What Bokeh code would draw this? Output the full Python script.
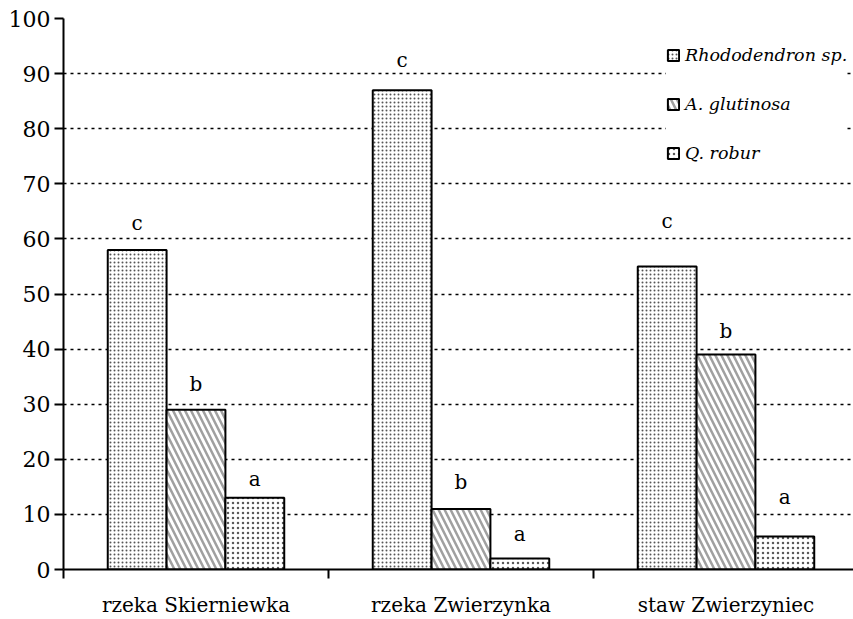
from bokeh.plotting import figure
from bokeh.models import (ColumnDataSource, FixedTicker, Legend, LegendItem,
                          Range1d)
from bokeh.embed import file_html
from bokeh.resources import INLINE
from bokeh.core.properties import value

# Sites along the x axis
categories = ["rzeka Skierniewka", "rzeka Zwierzynka", "staw Zwierzyniec"]

# Series values per site
rhododendron = [58, 87, 55]
glutinosa = [29, 11, 39]
robur = [13, 2, 6]

# Significance letters above each bar
letters_rhododendron = ["c", "c", "c"]
letters_glutinosa = ["b", "b", "b"]
letters_robur = ["a", "a", "a"]

# Height of each letter above its bar (value units)
gap_rhododendron = [4.8, 5.4, 8.3]
gap_glutinosa = [4.6, 4.8, 4.2]
gap_robur = [3.5, 4.5, 7.2]

y_ticks = list(range(0, 101, 10))

FONT = "DejaVu Serif"
BAR_W = 0.222

p = figure(width=853, height=619, output_backend="svg", toolbar_location=None,
           x_range=Range1d(0, 790 / 265), y_range=Range1d(0, 100),
           min_border_left=63, min_border_right=0, min_border_top=18,
           min_border_bottom=50)
p.outline_line_color = None
p.background_fill_color = "white"
p.border_fill_color = "white"

series = [
    ("Rhododendron sp.", rhododendron, letters_rhododendron, gap_rhododendron, -BAR_W,
     dict(hatch_pattern="dot", hatch_scale=4, hatch_weight=1.1, hatch_color="#555555")),
    ("A. glutinosa", glutinosa, letters_glutinosa, gap_glutinosa, 0.0,
     dict(hatch_pattern="left_diagonal_line", hatch_scale=12, hatch_weight=2.5,
          hatch_color="#a0a0a0")),
    ("Q. robur", robur, letters_robur, gap_robur, BAR_W,
     dict(hatch_pattern="dot", hatch_scale=5, hatch_weight=2.5, hatch_color="#5a5a5a")),
]

items = []
for name, vals, letters, gaps, off, hatch in series:
    xs = [i + 0.5 + off for i in range(len(categories))]
    src = ColumnDataSource(dict(x=xs, top=vals, letter=letters,
                                ly=[v + g for v, g in zip(vals, gaps)]))
    r = p.vbar(x="x", top="top", width=BAR_W, source=src, fill_color="white",
               line_color="black", line_width=2, **hatch)
    p.text(x="x", y="ly", text="letter", source=src, text_align="center",
           text_baseline="middle", text_font=value(FONT),
           text_font_size="20px", text_color="black")
    items.append(LegendItem(label=name, renderers=[r]))

legend = Legend(items=items, location=(603, 404), border_line_color=None,
                background_fill_color="white", background_fill_alpha=1.0,
                label_text_font=FONT, label_text_font_style="italic",
                label_text_font_size="17.5px", label_text_color="black",
                glyph_width=14, glyph_height=14,
                label_height=24, label_standoff=5, spacing=25, padding=18,
                margin=0)
p.add_layout(legend)

# Y axis
p.yaxis.ticker = FixedTicker(ticks=y_ticks)
p.yaxis.axis_line_width = 2
p.yaxis.axis_line_color = "black"
p.yaxis.major_tick_line_width = 2
p.yaxis.major_tick_in = 0
p.yaxis.major_tick_out = 9
p.yaxis.minor_tick_line_color = None
p.yaxis.major_label_text_font = FONT
p.yaxis.major_label_text_font_size = "22px"
p.yaxis.major_label_text_color = "black"
p.yaxis.major_label_standoff = 4

# X axis: labels at group centres, ticks at group boundaries
p.xaxis.ticker = FixedTicker(ticks=[0.5, 1.5, 2.5], minor_ticks=[0, 1, 2, 3])
p.xaxis.major_label_overrides = {0.5: categories[0], 1.5: categories[1],
                                 2.5: categories[2]}
p.xaxis.axis_line_width = 2
p.xaxis.axis_line_color = "black"
p.xaxis.major_tick_line_color = None
p.xaxis.major_tick_in = 0
p.xaxis.major_tick_out = 0
p.xaxis.minor_tick_line_width = 2
p.xaxis.minor_tick_line_color = "black"
p.xaxis.minor_tick_in = 0
p.xaxis.minor_tick_out = 9
p.xaxis.major_label_text_font = FONT
p.xaxis.major_label_text_font_size = "20px"
p.xaxis.major_label_text_color = "black"
p.xaxis.major_label_standoff = 14

# Dotted horizontal grid
p.xgrid.grid_line_color = None
p.ygrid.ticker = FixedTicker(ticks=y_ticks[1:])
p.ygrid.grid_line_color = "black"
p.ygrid.grid_line_width = 1.6
p.ygrid.grid_line_dash = "3 4"

open("out.html", "w").write(file_html(p, INLINE))
